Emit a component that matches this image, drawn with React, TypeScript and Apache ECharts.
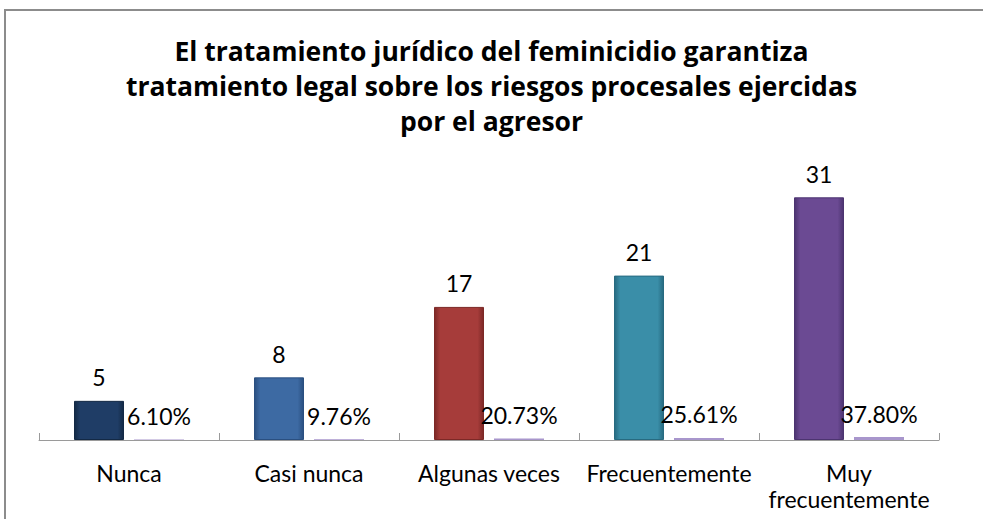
import React, { useEffect, useRef } from "react";
import * as echarts from "echarts";

const titleText =
  "El tratamiento jurídico del feminicidio garantiza\ntratamiento legal sobre los riesgos procesales ejercidas\npor el agresor";
const categories = ["Nunca", "Casi nunca", "Algunas veces", "Frecuentemente", "Muy\nfrecuentemente"];
const counts = [5, 8, 17, 21, 31];
const percents = [6.1, 9.76, 20.73, 25.61, 37.8];
const baseColors = ["#1f3d66", "#3d6aa3", "#a63c3a", "#3a8ea8", "#6b4a93"];
const darkColors = ["#132945", "#2a4f80", "#7c2826", "#276a80", "#4c3470"];

export default function App() {
  const ref = useRef<HTMLDivElement>(null);
  useEffect(() => {
    if (!ref.current) return;
    const chart = echarts.init(ref.current, undefined, { renderer: "svg" });
    const font = "Lato";
    chart.setOption({
      animation: false,
      backgroundColor: "#ffffff",
      graphic: [
        {
          type: "rect",
          shape: { x: 5, y: 10, width: 1000, height: 540 },
          style: { fill: "none", stroke: "#8c8c8c", lineWidth: 2 },
          silent: true,
        },
      ],
      title: {
        text: titleText,
        left: "center",
        top: 28,
        textStyle: {
          fontFamily: "Open Sans",
          fontWeight: "bold",
          fontSize: 26.5,
          lineHeight: 35,
          color: "#000000",
        },
      },
      grid: { left: 39, right: 44, top: 166, bottom: 79 },
      xAxis: {
        type: "category",
        data: categories,
        axisLine: { lineStyle: { color: "#9a9a9a", width: 1 } },
        axisTick: { show: true, inside: true, length: 7, lineStyle: { color: "#9a9a9a" } },
        axisLabel: {
          interval: 0,
          margin: 20,
          fontFamily: font,
          fontSize: 23,
          lineHeight: 26,
          color: "#000000",
        },
      },
      yAxis: {
        type: "value",
        min: 0,
        max: 35,
        show: false,
        splitLine: { show: false },
      },
      series: [
        {
          type: "bar",
          name: "Frecuencia",
          barWidth: 50,
          barGap: "20%",
          data: counts.map((v, i) => ({
            value: v,
            itemStyle: {
              color: new echarts.graphic.LinearGradient(0, 0, 1, 0, [
                { offset: 0, color: darkColors[i] },
                { offset: 0.12, color: baseColors[i] },
                { offset: 0.88, color: baseColors[i] },
                { offset: 1, color: darkColors[i] },
              ]),
              borderColor: darkColors[i],
              borderWidth: 1,
            },
          })),
          label: {
            show: true,
            position: "top",
            distance: 12,
            fontFamily: font,
            fontSize: 23,
            color: "#000000",
          },
        },
        {
          type: "bar",
          name: "Porcentaje",
          barWidth: 50,
          data: percents.map((p) => p / 100),
          itemStyle: { color: "#a896cc" },
          label: {
            show: true,
            position: "top",
            distance: 12,
            fontFamily: font,
            fontSize: 23,
            color: "#000000",
            formatter: (p: any) => percents[p.dataIndex].toFixed(2) + "%",
          },
        },
      ],
    });
    return () => chart.dispose();
  }, []);
  return <div ref={ref} style={{ width: 983, height: 519, position: "absolute", left: 0, top: 0 }} />;
}
